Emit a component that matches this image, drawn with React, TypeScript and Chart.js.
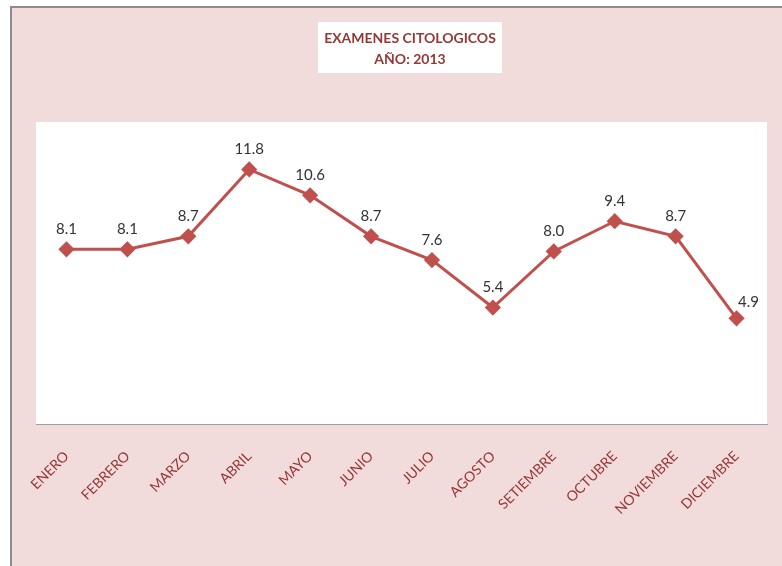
import React, { useEffect, useRef } from "react";
import { Chart, registerables } from "chart.js";

Chart.register(...registerables);

const months = [
  "ENERO", "FEBRERO", "MARZO", "ABRIL", "MAYO", "JUNIO",
  "JULIO", "AGOSTO", "SETIEMBRE", "OCTUBRE", "NOVIEMBRE", "DICIEMBRE",
];
const values = [8.1, 8.1, 8.7, 11.8, 10.6, 8.7, 7.6, 5.4, 8.0, 9.4, 8.7, 4.9];
const titleLines = ["EXAMENES CITOLOGICOS", "AÑO: 2013"];

const PINK = "#f2dcdb";
const DARK_RED = "#953735";
const LINE_RED = "#c0504d";
const FONT = "Lato, 'Open Sans', sans-serif";

const backgroundPlugin = {
  id: "bgPlugin",
  beforeDraw(chart: any) {
    const { ctx, width, height, chartArea } = chart;
    ctx.save();
    ctx.fillStyle = "#ffffff";
    ctx.fillRect(0, 0, width, height);
    ctx.fillStyle = PINK;
    ctx.fillRect(10, 6, width - 10, height - 6);
    ctx.strokeStyle = "#8c8c8c";
    ctx.lineWidth = 2;
    ctx.beginPath();
    ctx.moveTo(11, height);
    ctx.lineTo(11, 7);
    ctx.lineTo(width, 7);
    ctx.stroke();
    // plot area
    ctx.fillStyle = "#ffffff";
    ctx.fillRect(chartArea.left, chartArea.top, chartArea.right - chartArea.left, chartArea.bottom - chartArea.top);
    // title box and title
    ctx.fillRect(318, 22, 184, 51);
    ctx.fillStyle = DARK_RED;
    ctx.font = "bold 14px " + FONT;
    ctx.textAlign = "center";
    ctx.textBaseline = "middle";
    titleLines.forEach((line, i) => {
      ctx.fillText(line, 410, 38 + i * 21);
    });
    ctx.restore();
  },
};

const valueLabelPlugin = {
  id: "valueLabels",
  afterDatasetsDraw(chart: any) {
    const { ctx } = chart;
    const meta = chart.getDatasetMeta(0);
    ctx.save();
    ctx.font = "15px " + FONT;
    ctx.fillStyle = "#333333";
    ctx.textAlign = "center";
    ctx.textBaseline = "middle";
    meta.data.forEach((pt: any, i: number) => {
      const v = values[i];
      const isLast = i === values.length - 1;
      const x = isLast ? pt.x + 12 : pt.x;
      const y = isLast ? pt.y - 16 : pt.y - 20;
      ctx.fillText(v.toFixed(1), x, y);
    });
    ctx.restore();
  },
};

export default function App() {
  const ref = useRef<HTMLCanvasElement | null>(null);
  useEffect(() => {
    if (!ref.current) return;
    const chart = new Chart(ref.current, {
      type: "line",
      data: {
        labels: months,
        datasets: [
          {
            data: values,
            borderColor: LINE_RED,
            backgroundColor: LINE_RED,
            borderWidth: 3,
            pointStyle: "rectRot",
            pointRadius: 6,
            pointHoverRadius: 6,
            pointBackgroundColor: LINE_RED,
            pointBorderColor: LINE_RED,
            tension: 0,
          },
        ],
      },
      options: {
        animation: false,
        responsive: false,
        layout: { padding: { left: 36, right: 15, top: 122, bottom: 0 } },
        plugins: {
          legend: { display: false },
          tooltip: { enabled: false },
          title: { display: false },
        },
        scales: {
          x: {
            offset: true,
            grid: { display: false },
            border: { display: true, color: "#a0a0a0", width: 1 },
            ticks: {
              color: DARK_RED,
              autoSkip: false,
              minRotation: 45,
              maxRotation: 45,
              padding: 16,
              font: { family: FONT, size: 14 },
            },
            afterFit(scale: any) {
              scale.height = 142;
            },
          },
          y: {
            display: false,
            min: 0,
            max: 14,
          },
        },
      },
      plugins: [backgroundPlugin, valueLabelPlugin],
    });
    return () => chart.destroy();
  }, []);
  return (
    <div style={{ position: "fixed", left: 0, top: 0, width: 782, height: 566 }}>
      <canvas ref={ref} width={782} height={566} style={{ display: "block" }} />
    </div>
  );
}
